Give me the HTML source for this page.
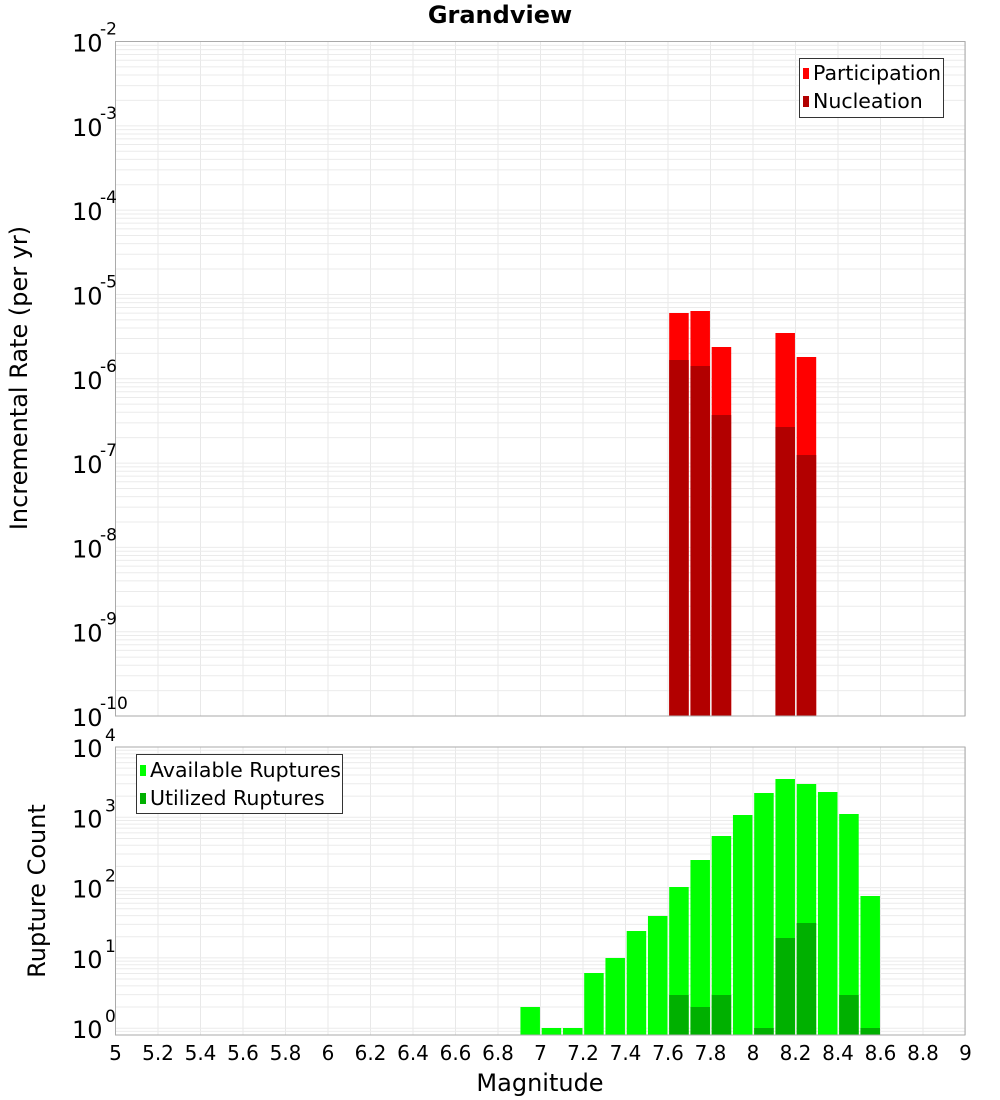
<!DOCTYPE html>
<html><head><meta charset="utf-8"><style>
body{margin:0;background:#fff;}
svg{display:block;font-family:"DejaVu Sans","Liberation Sans",sans-serif;}
</style></head><body>
<svg id="s" width="1000" height="1100" xmlns="http://www.w3.org/2000/svg"></svg>
<script>
var s=document.getElementById('s');var h='';
var L=115.5,R=965,P=212.5;
function X(m){return L+(m-5)*P;}
var T0=41.5,T1=716,td=(T1-T0)/8;
function YT(lg){return T0+(-2-lg)*td;}
var B0=747,B1=1035,lo=Math.log10(0.8),bd=(B1-B0)/(4-lo);
function YB(lg){return B0+(4-lg)*bd;}
function grid(y0,y1,fy,dmin,dmax,lmin,lmax){
 for(var m=5.2;m<9;m+=0.2){var x=X(m);h+='<line x1="'+x+'" y1="'+y0+'" x2="'+x+'" y2="'+y1+'" stroke="#e8e8e8" stroke-width="1"/>';}
 for(var d=dmin;d<=dmax;d++)for(var k=1;k<10;k++){var lg=d+Math.log10(k);if(lg<lmin||lg>lmax)continue;var y=fy(lg);h+='<line x1="'+L+'" y1="'+y+'" x2="'+R+'" y2="'+y+'" stroke="#ebebeb" stroke-width="1"/>';}
}
grid(T0,T1,YT,-10,-2,-10,-2);
grid(B0,B1,YB,-1,4,lo,4);
function bar(m,top,bot,c){var x=X(m)+1.2;h+='<rect x="'+x+'" y="'+top+'" width="19.5" height="'+(bot-top)+'" fill="'+c+'"/>';}
var pt=[[7.6,313],[7.7,311],[7.8,347],[8.1,333],[8.2,357]];
var nt=[[7.6,360],[7.7,366],[7.8,415],[8.1,427],[8.2,455]];
pt.forEach(function(a){bar(a[0],a[1],T1,'#ff0000');});
nt.forEach(function(a){bar(a[0],a[1],T1,'#b20000');});
var av=[[6.9,1007],[7.0,1028],[7.1,1028],[7.2,973],[7.3,958],[7.4,931],[7.5,916],[7.6,887],[7.7,860],[7.8,836],[7.9,815],[8.0,793],[8.1,779],[8.2,784],[8.3,792],[8.4,814],[8.5,896]];
var ut=[[7.6,995],[7.7,1007],[7.8,995],[8.0,1028],[8.1,938],[8.2,923],[8.4,995],[8.5,1028]];
av.forEach(function(a){bar(a[0],a[1],B1,'#00ff00');});
ut.forEach(function(a){bar(a[0],a[1],B1,'#00b000');});
h+='<rect x="'+L+'" y="'+T0+'" width="'+(R-L)+'" height="'+(T1-T0)+'" fill="none" stroke="#aaa"/>';
h+='<rect x="'+L+'" y="'+B0+'" width="'+(R-L)+'" height="'+(B1-B0)+'" fill="none" stroke="#aaa"/>';
for(var d=-2;d>=-10;d--){var y=YT(d);h+='<text x="72" y="'+(y+10)+'" font-size="24">10</text><text x="100" y="'+(y-7)+'" font-size="17">'+d+'</text>';}
for(var d=0;d<=4;d++){var y=YB(d);h+='<text x="72" y="'+(y+10)+'" font-size="24">10</text><text x="105" y="'+(y-6)+'" font-size="17">'+d+'</text>';}
for(var i=0;i<=20;i++){var m=5+i*0.2;var t=(Math.round(m*10)/10).toString();h+='<text x="'+X(m)+'" y="1060" font-size="20" text-anchor="middle">'+t+'</text>';}
h+='<text x="540" y="1091" font-size="24" text-anchor="middle">Magnitude</text>';
h+='<text x="500" y="23" font-size="24" font-weight="bold" text-anchor="middle">Grandview</text>';
h+='<text transform="translate(27,378) rotate(-90)" font-size="24" text-anchor="middle">Incremental Rate (per yr)</text>';
h+='<text transform="translate(45,891) rotate(-90)" font-size="24" text-anchor="middle">Rupture Count</text>';
h+='<rect x="799.5" y="58.5" width="144" height="59" fill="#fff" stroke="#333"/>';
h+='<rect x="803" y="68" width="6" height="11" fill="#ff0000"/><text x="813" y="80" font-size="20.5">Participation</text>';
h+='<rect x="803" y="96" width="6" height="11" fill="#b20000"/><text x="813" y="108" font-size="20.5">Nucleation</text>';
h+='<rect x="136.5" y="754.5" width="206" height="59" fill="#fff" stroke="#333"/>';
h+='<rect x="140" y="765" width="6" height="11" fill="#00ff00"/><text x="150" y="777" font-size="20.5">Available Ruptures</text>';
h+='<rect x="140" y="793" width="6" height="11" fill="#00b000"/><text x="150" y="805" font-size="20.5">Utilized Ruptures</text>';
s.innerHTML=h;
</script>
</body></html>
